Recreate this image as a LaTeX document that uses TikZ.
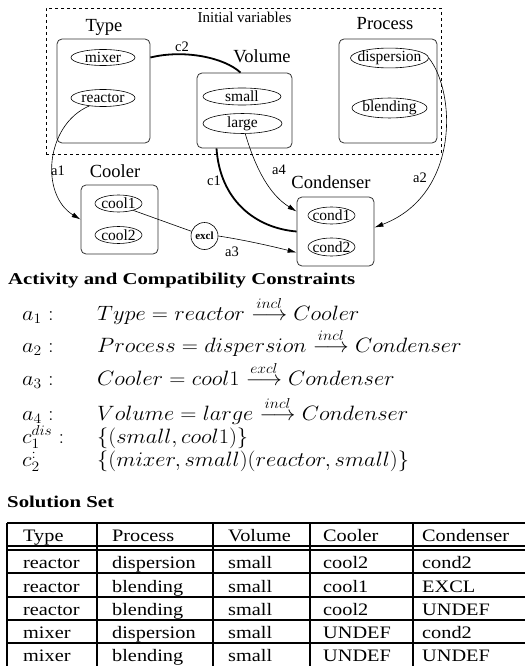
\documentclass[tikz,border=0pt]{standalone}
\usepackage{amsmath}
\usepackage{graphicx}
\usepackage{fontspec}
\setmainfont{Liberation Serif}
\usetikzlibrary{arrows.meta,shapes.geometric}

% text of a value ellipse: zero width, so the ellipse keeps its set size
\newcommand{\vtxt}[1]{\makebox[0pt]{#1}}
% horizontally widened text
\newcommand{\wide}[2]{\scalebox{#1}[1]{#2}}

\begin{document}
\begin{tikzpicture}[x=1pt,y=-1pt,
  box/.style={draw=black!80, line width=0.8pt, rounded corners=5pt, inner sep=0pt},
  val/.style={ellipse, draw, line width=0.6pt, inner sep=0pt,
    font=\fontsize{15.5}{16}\selectfont},
  lbl/.style={font=\fontsize{18.5}{20}\selectfont, anchor=base, inner sep=0pt},
  elbl/.style={font=\fontsize{14.5}{16}\selectfont, inner sep=0pt},
  link/.style={line width=0.6pt},
  strong/.style={line width=1.8pt},
  tip/.style={-{Latex[length=9pt,width=5pt]}},
  head/.style={anchor=base west, inner sep=0pt,
    font=\bfseries\fontsize{16.5}{18}\selectfont},
  mrow/.style={anchor=base west, inner sep=0pt, font=\fontsize{20}{22}\selectfont},
  cell/.style={anchor=base west, inner sep=0pt, font=\fontsize{17.5}{19}\selectfont},
  rule/.style={line width=1.2pt}
]
\useasboundingbox (0,0) rectangle (525,666);

% ---------- initial variables ----------
\node[draw, dashed, line width=0.6pt, minimum width=395pt, minimum height=146pt,
  inner sep=0pt] (frame) at (243.5,81) {};
\node[anchor=base, inner sep=0pt, font=\fontsize{15}{16}\selectfont] (frametitle)
  at (244.5,23) {Initial variables};

\node[box, minimum width=93pt, minimum height=104pt] (typebox) at (103.5,91) {};
\node[lbl] (typelbl) at (104,32) {Type};
\node[val, minimum width=64pt, minimum height=16pt] (mixer) at (103,57.5) {\vtxt{mixer}};
\node[val, minimum width=64pt, minimum height=17pt] (reactor) at (103,98) {\vtxt{reactor}};

\node[box, minimum width=95pt, minimum height=75pt] (volbox) at (244.5,110.5) {};
\node[lbl] (vollbl) at (262,63) {Volume};
\node[val, minimum width=78pt, minimum height=17pt] (small) at (242,96.5) {\vtxt{small}};
\node[val, minimum width=79pt, minimum height=19pt] (large) at (242.5,123.5) {\vtxt{large}};

\node[box, minimum width=98pt, minimum height=104pt] (procbox) at (388,91) {};
\node[lbl] (proclbl) at (385,30) {Process};
\node[val, minimum width=78pt, minimum height=17pt] (dispersion) at (389.5,58) {\vtxt{dispersion}};
\node[val, minimum width=75pt, minimum height=19pt] (blending) at (389.5,108) {\vtxt{blending}};

% ---------- dependent variables ----------
\node[box, minimum width=77pt, minimum height=69pt] (coolbox) at (119.5,219.5) {};
\node[lbl] (coollbl) at (115,177) {Cooler};
\node[val, minimum width=47pt, minimum height=17pt] (cool1) at (118.5,203.5) {\vtxt{cool1}};
\node[val, minimum width=47pt, minimum height=17pt] (cool2) at (118.5,235) {\vtxt{cool2}};

\node[box, minimum width=77pt, minimum height=69pt] (condbox) at (335.5,231.5) {};
\node[lbl] (condlbl) at (331,188) {Condenser};
\node[val, minimum width=47pt, minimum height=17pt] (cond1) at (331.5,215.5) {\vtxt{cond1}};
\node[val, minimum width=47pt, minimum height=18pt] (cond2) at (331.5,247) {\vtxt{cond2}};

\node[circle, draw, line width=0.6pt, minimum size=27pt, inner sep=0pt,
  font=\bfseries\fontsize{11}{12}\selectfont] (excl) at (204.5,236) {excl};

% ---------- compatibility constraints (thick) ----------
\draw[strong] (typebox.east |- mixer) .. controls (185,49) and (225,58) .. ([xshift=-4pt]volbox.north);
\node[elbl] (c2lbl) at (182,47) {c2};
\draw[strong] ([xshift=-28pt]volbox.south) .. controls (220,200) and (255,228) .. (condbox.west);
\node[elbl] (c1lbl) at (214,181) {c1};

% ---------- activity constraints ----------
\draw[link, tip] (reactor.210) .. controls (45,125) and (40,195) .. (coolbox.west);
\node[elbl] (a1lbl) at (58,171) {a1};
\draw[link, tip] (dispersion.east) .. controls (456,92) and (460,195) .. ([yshift=4pt]condbox.east);
\node[elbl] (a2lbl) at (420,178) {a2};
\draw[link] (cool1.-25) -- (excl);
\draw[link, tip] (excl.east) .. controls (245,240) and (275,247) .. ([yshift=-21pt]condbox.west);
\node[elbl] (a3lbl) at (232,252) {a3};
\draw[link, tip] (large.-75) .. controls (256,170) and (270,195) .. ([yshift=20pt]condbox.west);
\node[elbl] (a4lbl) at (279,170) {a4};

% ---------- constraint list ----------
\node[head] (acthead) at (8,284) {\wide{1.26}{Activity and Compatibility Constraints}};

\node[mrow] (n1) at (22,320) {\wide{1.08}{$a_1 :$}};
\node[mrow] (e1) at (97,320) {\wide{1.08}{$Type = reactor \stackrel{incl}{\longrightarrow} Cooler$}};
\node[mrow] (n2) at (22,352) {\wide{1.08}{$a_2 :$}};
\node[mrow] (e2) at (97,352) {\wide{1.08}{$Process = dispersion \stackrel{incl}{\longrightarrow} Condenser$}};
\node[mrow] (n3) at (22,385) {\wide{1.08}{$a_3 :$}};
\node[mrow] (e3) at (97,385) {\wide{1.08}{$Cooler = cool1 \stackrel{excl}{\longrightarrow} Condenser$}};
\node[mrow] (n4) at (22,420) {\wide{1.08}{$a_4 :$}};
\node[mrow] (e4) at (97,420) {\wide{1.08}{$Volume = large \stackrel{incl}{\longrightarrow} Condenser$}};
\node[mrow] (n5) at (22,443) {\wide{1.08}{$c_1^{dis} :$}};
\node[mrow] (e5) at (97,443) {\wide{1.08}{$\{(small, cool1)\}$}};
\node[mrow] (n6) at (22,466) {\wide{1.08}{$c_2^{:}$}};
\node[mrow] (e6) at (97,466) {\wide{1.08}{$\{(mixer, small)(reactor, small)\}$}};

% ---------- solution table ----------
\node[head] (solhead) at (7,507) {\wide{1.26}{Solution Set}};

\foreach \y in {523,546,550,573,597,620,643}
  \draw[rule] (7,\y) -- (525,\y);
\foreach \x in {7,97,213,310,413}
  \draw[rule] (\x,523) -- (\x,666);

\foreach \r/\y/\a/\b/\c/\d/\e in {
  0/541/Type/Process/Volume/Cooler/Condenser,
  1/568/reactor/dispersion/small/cool2/cond2,
  2/592/reactor/blending/small/cool1/EXCL,
  3/615/reactor/blending/small/cool2/UNDEF,
  4/638/mixer/dispersion/small/UNDEF/cond2,
  5/661/mixer/blending/small/UNDEF/UNDEF}{
  \node[cell] (t\r a) at (23,\y) {\wide{1.16}{\a}};
  \node[cell] (t\r b) at (112,\y) {\wide{1.16}{\b}};
  \node[cell] (t\r c) at (228,\y) {\wide{1.16}{\c}};
  \node[cell] (t\r d) at (323,\y) {\wide{1.16}{\d}};
  \node[cell] (t\r e) at (422,\y) {\wide{1.16}{\e}};
}
\end{tikzpicture}
\end{document}
